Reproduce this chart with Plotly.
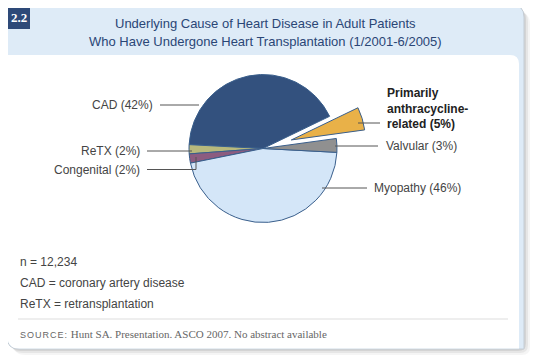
import plotly.graph_objects as go

# ---- data ----
causes = ["CAD", "ReTX", "Congenital", "Myopathy", "Valvular", "Primarily anthracycline-related"]
shares = [42, 2, 2, 46, 3, 5]
slice_colors = ["#33517e", "#b8b97c", "#8c5c80", "#d4e6f8", "#909090", "#e9b148"]
pulls = [0, 0, 0, 0, 0, 0.4]
footnotes = ["n = 12,234", "CAD = coronary artery disease", "ReTX = retransplantation"]
title_lines = ["Underlying Cause of Heart Disease in Adult Patients",
               "Who Have Undergone Heart Transplantation (1/2001-6/2005)"]
source_text = "Hunt SA. Presentation. ASCO 2007. No abstract available"

W, H = 540, 364
OFF = 8  # page body margin: page pixel = figure pixel + OFF
NAVY = "#2e4a78"
LIGHT = "#deebf7"
TXT = "#444444"

fig = go.Figure()

# pie centre in page pixels (263,148.5), radius ~74, pull 0.4 -> domain half-size 74*1.4
cx, cy, r = 263, 148.5, 74
half = r * (1 + max(pulls))
fx, fy = cx - OFF, cy - OFF
fig.add_trace(go.Pie(
    labels=causes, values=shares, sort=False, direction="counterclockwise",
    rotation=-87, pull=pulls, textinfo="none", hoverinfo="label+percent",
    marker=dict(colors=slice_colors, line=dict(color="#3a5f8c", width=1)),
    domain=dict(x=[(fx - half) / W, (fx + half) / W],
                y=[1 - (fy + half) / H, 1 - (fy - half) / H]),
    showlegend=False,
))


def rrect(x0, y0, x1, y1, rtl=0, rtr=0, rbr=0, rbl=0):
    p = f"M {x0+rtl},{y0} L {x1-rtr},{y0} "
    p += f"Q {x1},{y0} {x1},{y0+rtr} " if rtr else ""
    p += f"L {x1},{y1-rbr} "
    p += f"Q {x1},{y1} {x1-rbr},{y1} " if rbr else ""
    p += f"L {x0+rbl},{y1} "
    p += f"Q {x0},{y1} {x0},{y1-rbl} " if rbl else ""
    p += f"L {x0},{y0+rtl} "
    p += f"Q {x0},{y0} {x0+rtl},{y0} " if rtl else ""
    return p + "Z"


shapes = []
# shadow
for off, a in [(6, 0.04), (4, 0.06), (2, 0.08)]:
    shapes.append(dict(type="path", path=rrect(7 + off, 6 + off, 524 + off, 349 + off, 0, 12, 8, 12),
                       fillcolor=f"rgba(0,0,0,{a})", line=dict(width=0), layer="below"))
# card (light blue)
shapes.append(dict(type="path", path=rrect(7, 5, 524, 349, 0, 12, 0, 12),
                   fillcolor=LIGHT, line=dict(color="#c4ccd4", width=1), layer="below"))
# white content area
shapes.append(dict(type="path", path=rrect(7.5, 55, 519, 348.5, 0, 9, 0, 12),
                   fillcolor="white", line=dict(width=0), layer="below"))
# top navy bar
shapes.append(dict(type="rect", x0=7, x1=510, y0=3.5, y1=6.5, fillcolor=NAVY, line=dict(width=0), layer="below"))
# badge
shapes.append(dict(type="rect", x0=7, x1=30, y0=4, y1=29, fillcolor=NAVY, line=dict(width=0), layer="below"))
# separator
shapes.append(dict(type="line", x0=18, x1=508, y0=319, y1=319, line=dict(color="#dddddd", width=1), layer="below"))

# leader lines
LC = "#555555"
lead = [
    [(160, 105), (199, 105)],
    [(147, 151), (192, 151)],
    [(147, 169.5), (196, 169.5), (196, 157)],
    [(358, 123), (380, 123)],
    [(335, 146), (378, 146)],
    [(322, 188), (367, 188)],
]
for pts in lead:
    path = "M " + " L ".join(f"{x},{y}" for x, y in pts)
    shapes.append(dict(type="path", path=path, line=dict(color=LC, width=1), layer="above"))

fig.update_layout(shapes=shapes)

ann = []
FONT = "Liberation Sans, Arial, sans-serif"
# title
for i, t in enumerate(title_lines):
    ann.append(dict(x=265, y=23 + 18 * i, text=t, showarrow=False, xanchor="center", yanchor="middle",
                    font=dict(family=FONT, size=13, color="#2a4676")))
# badge text
ann.append(dict(x=18.5, y=17, text="<b>2.2</b>", showarrow=False, xanchor="center", yanchor="middle",
                font=dict(family="Liberation Serif, serif", size=13, color="white")))

# slice labels
lab = [
    ("CAD (42%)", 155, 105, "right"),
    ("ReTX (2%)", 142, 151, "right"),
    ("Congenital (2%)", 142, 169.5, "right"),
    ("Valvular (3%)", 384, 146, "left"),
    ("Myopathy (46%)", 372, 188, "left"),
]
for t, x, y, xa in lab:
    ann.append(dict(x=x, y=y, text=t, showarrow=False, xanchor=xa, yanchor="middle",
                    font=dict(family=FONT, size=12, color=TXT)))
ann.append(dict(x=385, y=108, text="<b>Primarily<br>anthracycline-<br>related (5%)</b>", showarrow=False,
                xanchor="left", yanchor="middle", align="left",
                font=dict(family=FONT, size=12, color="#222222")))

# footnotes
for i, t in enumerate(footnotes):
    ann.append(dict(x=18, y=262 + 21 * i, text=t, showarrow=False, xanchor="left", yanchor="middle",
                    font=dict(family=FONT, size=12, color=TXT)))
ann.append(dict(x=18, y=334, text="<span style='font-family:Liberation Sans, Arial; font-size:9px; letter-spacing:1px'>SOURCE:</span> " + source_text,
                showarrow=False, xanchor="left", yanchor="middle",
                font=dict(family="Liberation Serif, Times New Roman, serif", size=11, color="#666666")))

for a in ann:
    a["xref"] = "x"
    a["yref"] = "y"
fig.update_layout(annotations=ann)

fig.update_layout(
    width=W, height=H, margin=dict(l=0, r=0, t=0, b=0),
    paper_bgcolor="white", plot_bgcolor="rgba(0,0,0,0)",
    xaxis=dict(range=[OFF, W + OFF], visible=False, fixedrange=True),
    yaxis=dict(range=[H + OFF, OFF], visible=False, fixedrange=True),
)

fig.write_html("out.html")
